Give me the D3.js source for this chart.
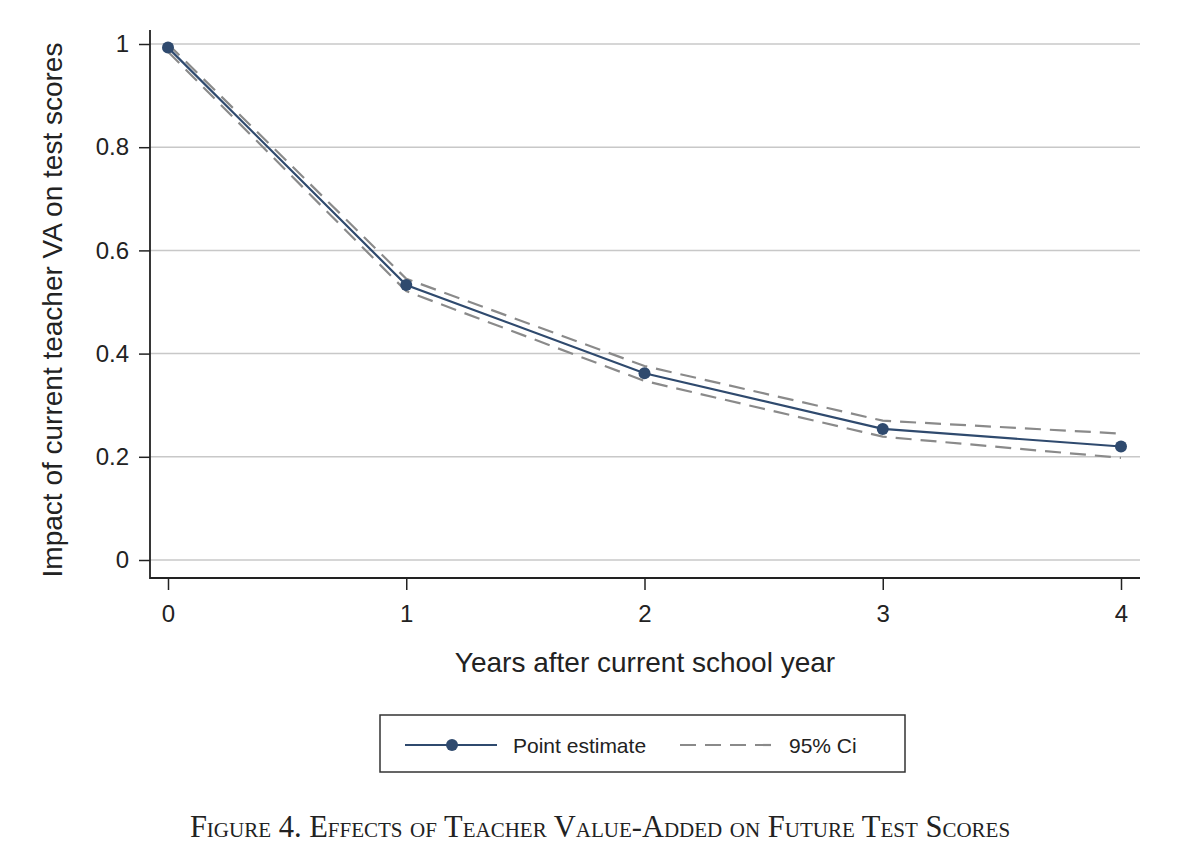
<!DOCTYPE html>
<html>
<head>
<meta charset="utf-8">
<script src="https://cdn.jsdelivr.net/npm/d3@7"></script>
<style>
  body { margin: 0; background: #fff; }
  svg text { font-family: "Liberation Sans", Arial, sans-serif; fill: #222; }
  .caption { font-family: "Liberation Serif", "Times New Roman", serif; font-variant: small-caps; }
</style>
</head>
<body>
<svg id="chart"></svg>
<script>
// data
const years = [0, 1, 2, 3, 4];
const pointEstimate = [0.993, 0.533, 0.362, 0.254, 0.220];
const ciUpper = [1.000, 0.545, 0.376, 0.270, 0.245];
const ciLower = [0.985, 0.521, 0.347, 0.239, 0.198];
const yTicks = [0, 0.2, 0.4, 0.6, 0.8, 1];
const xTicks = [0, 1, 2, 3, 4];

const width = 1200, height = 864;
const svg = d3.select('#chart').attr('width', width).attr('height', height);

// plot frame
const frame = {left: 150, right: 1140, top: 30, bottom: 578};

const x = d3.scaleLinear().domain([0, 4]).range([168, 1121]);
const y = d3.scaleLinear().domain([0, 1]).range([560, 44]);

// gridlines
svg.append('g')
  .selectAll('line')
  .data(yTicks)
  .join('line')
    .attr('x1', frame.left)
    .attr('x2', frame.right)
    .attr('y1', d => y(d))
    .attr('y2', d => y(d))
    .attr('stroke', '#c8c8c8')
    .attr('stroke-width', 1.5);

// axes
const yAxis = d3.axisLeft(y)
  .tickValues(yTicks)
  .tickSize(11)
  .tickPadding(10)
  .tickFormat(d => d3.format('')(d));

const xAxis = d3.axisBottom(x)
  .tickValues(xTicks)
  .tickSize(12)
  .tickPadding(15)
  .tickFormat(d3.format('d'));

const yAxisG = svg.append('g')
  .attr('transform', `translate(${frame.left},0)`)
  .call(yAxis);
yAxisG.select('.domain').remove();

const xAxisG = svg.append('g')
  .attr('transform', `translate(0,${frame.bottom})`)
  .call(xAxis);
xAxisG.select('.domain').remove();

[yAxisG, xAxisG].forEach(g => {
  g.selectAll('.tick line').attr('stroke', '#222').attr('stroke-width', 1.5);
  g.selectAll('.tick text').attr('font-size', 24).style('font-family', '"Liberation Sans", Arial, sans-serif').attr('fill', '#222');
});

// axis lines
svg.append('path')
  .attr('d', `M${frame.left},${frame.top}V${frame.bottom}H${frame.right}`)
  .attr('fill', 'none')
  .attr('stroke', '#222')
  .attr('stroke-width', 1.8);

// CI lines
const line = d3.line().x((d, i) => x(years[i])).y(d => y(d));
[ciUpper, ciLower].forEach(s => {
  svg.append('path')
    .datum(s)
    .attr('d', line)
    .attr('fill', 'none')
    .attr('stroke', '#8a8a8a')
    .attr('stroke-width', 2.2)
    .attr('stroke-dasharray', '16,9');
});

// point estimate
svg.append('path')
  .datum(pointEstimate)
  .attr('d', line)
  .attr('fill', 'none')
  .attr('stroke', '#2f4a6e')
  .attr('stroke-width', 2.2);

svg.append('g')
  .selectAll('circle')
  .data(pointEstimate)
  .join('circle')
    .attr('cx', (d, i) => x(years[i]))
    .attr('cy', d => y(d))
    .attr('r', 6)
    .attr('fill', '#2f4a6e');

// axis titles
svg.append('text')
  .attr('transform', `translate(62,${(frame.top + frame.bottom) / 2 + 6}) rotate(-90)`)
  .attr('text-anchor', 'middle')
  .attr('font-size', 28)
  .text('Impact of current teacher VA on test scores');

svg.append('text')
  .attr('x', 645)
  .attr('y', 672)
  .attr('text-anchor', 'middle')
  .attr('font-size', 28)
  .text('Years after current school year');

// legend
const legend = svg.append('g');
legend.append('rect')
  .attr('x', 380).attr('y', 715)
  .attr('width', 525).attr('height', 57)
  .attr('fill', 'none')
  .attr('stroke', '#333')
  .attr('stroke-width', 1.5);
legend.append('line')
  .attr('x1', 405).attr('x2', 497).attr('y1', 745).attr('y2', 745)
  .attr('stroke', '#2f4a6e').attr('stroke-width', 2.2);
legend.append('circle')
  .attr('cx', 452).attr('cy', 745).attr('r', 6)
  .attr('fill', '#2f4a6e');
legend.append('text')
  .attr('x', 513).attr('y', 753)
  .attr('font-size', 21)
  .text('Point estimate');
legend.append('line')
  .attr('x1', 680).attr('x2', 772).attr('y1', 745).attr('y2', 745)
  .attr('stroke', '#8a8a8a').attr('stroke-width', 2.2)
  .attr('stroke-dasharray', '16,9');
legend.append('text')
  .attr('x', 789).attr('y', 753)
  .attr('font-size', 21)
  .text('95% Ci');

// caption
svg.append('text')
  .attr('class', 'caption')
  .attr('x', 600)
  .attr('y', 837)
  .attr('text-anchor', 'middle')
  .attr('font-size', 30.5)
  .text('Figure 4. Effects of Teacher Value-Added on Future Test Scores');
</script>
</body>
</html>
